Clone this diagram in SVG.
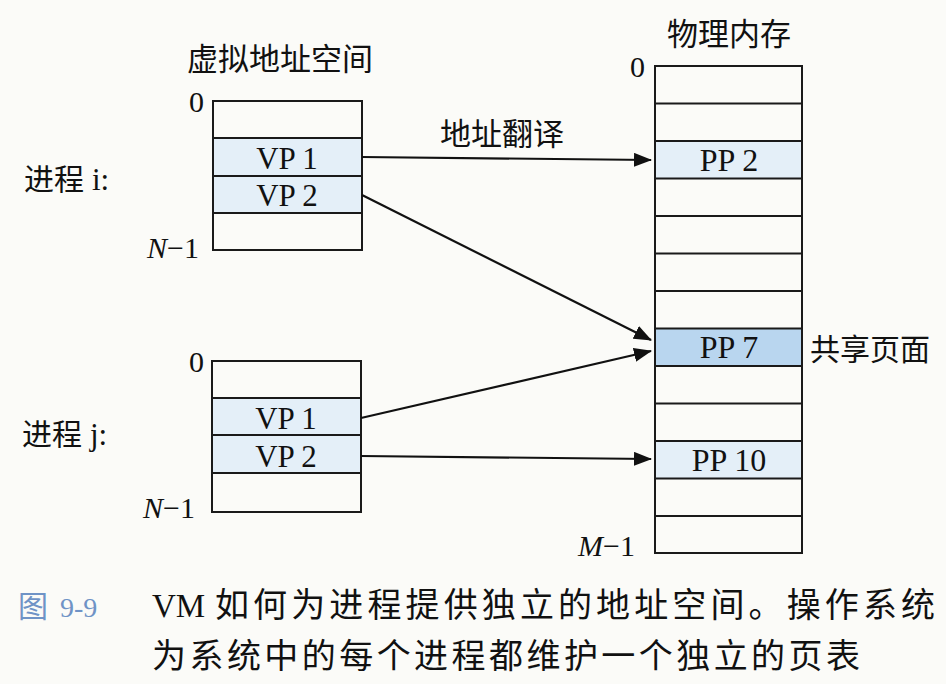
<svg xmlns="http://www.w3.org/2000/svg" width="946" height="684" viewBox="0 0 946 684">
<defs>
<style>
.cell{fill:none;stroke:#1a1a1a;stroke-width:2}
.hl{fill:#e4eff8}
.sh{fill:#b9d6ef}
.rom{font-family:"Liberation Serif","Times New Roman",serif;fill:#111}
.cjk{font-family:"Noto Sans CJK SC",sans-serif;fill:#111}
.con{stroke:#111;stroke-width:2.2;fill:none;marker-end:url(#ah)}
</style>
<marker id="ah" viewBox="0 0 18 14" refX="17" refY="7" markerWidth="18" markerHeight="14" markerUnits="userSpaceOnUse" orient="auto">
<path d="M0,0 L18,7 L0,14 Z" fill="#111"/>
</marker>
</defs>
<rect width="946" height="684" fill="#fbfbf8"/>

<g id="vas-title"><text class="cjk" x="280" y="70" font-size="31" text-anchor="middle">虚拟地址空间</text></g>
<g id="pm-title"><text class="cjk" x="729" y="45" font-size="31" text-anchor="middle">物理内存</text></g>

<g id="proc-i">
<text class="cjk" x="24" y="190" font-size="30">进程</text>
<text class="rom" x="92" y="190" font-size="31">i:</text>
<text class="rom" x="189" y="112" font-size="30">0</text>
<text class="rom" x="147" y="258" font-size="30"><tspan font-style="italic">N</tspan>−1</text>
<rect class="hl" x="213" y="138" width="149" height="75"/>
<rect class="cell" x="213" y="101" width="149" height="149"/>
<line class="cell" x1="213" y1="138" x2="362" y2="138"/>
<line class="cell" x1="213" y1="176" x2="362" y2="176"/>
<line class="cell" x1="213" y1="213" x2="362" y2="213"/>
<text class="rom" x="287" y="169" font-size="31" text-anchor="middle">VP 1</text>
<text class="rom" x="287" y="206" font-size="31" text-anchor="middle">VP 2</text>
</g>

<g id="proc-j">
<text class="cjk" x="22" y="445" font-size="30">进程</text>
<text class="rom" x="90" y="445" font-size="31">j:</text>
<text class="rom" x="189" y="372" font-size="30">0</text>
<text class="rom" x="143" y="518" font-size="30"><tspan font-style="italic">N</tspan>−1</text>
<rect class="hl" x="212" y="398" width="149" height="75"/>
<rect class="cell" x="212" y="361" width="149" height="151"/>
<line class="cell" x1="212" y1="398" x2="361" y2="398"/>
<line class="cell" x1="212" y1="435" x2="361" y2="435"/>
<line class="cell" x1="212" y1="473" x2="361" y2="473"/>
<text class="rom" x="286" y="429" font-size="31" text-anchor="middle">VP 1</text>
<text class="rom" x="286" y="467" font-size="31" text-anchor="middle">VP 2</text>
</g>

<g id="phys-mem">
<text class="rom" x="630" y="77" font-size="30">0</text>
<text class="rom" x="578" y="556" font-size="30"><tspan font-style="italic">M</tspan>−1</text>
<rect class="hl" x="655" y="141" width="147" height="37.5"/>
<rect class="sh" x="655" y="328.5" width="147" height="37.5"/>
<rect class="hl" x="655" y="441" width="147" height="37.5"/>
<rect class="cell" x="655" y="66" width="147" height="487"/>
<g class="cell">
<line x1="655" y1="103.5" x2="802" y2="103.5"/>
<line x1="655" y1="141" x2="802" y2="141"/>
<line x1="655" y1="178.5" x2="802" y2="178.5"/>
<line x1="655" y1="216" x2="802" y2="216"/>
<line x1="655" y1="253.5" x2="802" y2="253.5"/>
<line x1="655" y1="291" x2="802" y2="291"/>
<line x1="655" y1="328.5" x2="802" y2="328.5"/>
<line x1="655" y1="366" x2="802" y2="366"/>
<line x1="655" y1="403.5" x2="802" y2="403.5"/>
<line x1="655" y1="441" x2="802" y2="441"/>
<line x1="655" y1="478.5" x2="802" y2="478.5"/>
<line x1="655" y1="516" x2="802" y2="516"/>
</g>
<text class="rom" x="729" y="171" font-size="32" text-anchor="middle">PP 2</text>
<text class="rom" x="729" y="358" font-size="32" text-anchor="middle">PP 7</text>
<text class="rom" x="729" y="471" font-size="32" text-anchor="middle">PP 10</text>
<text class="cjk" x="810" y="360" font-size="30">共享页面</text>
</g>

<g id="connectors">
<line class="con" x1="362" y1="157" x2="651" y2="160"/>
<line class="con" x1="362" y1="195" x2="651" y2="340"/>
<line class="con" x1="361" y1="418" x2="651" y2="351"/>
<line class="con" x1="361" y1="456" x2="651" y2="459"/>
<text class="cjk" x="502" y="145" font-size="31" text-anchor="middle">地址翻译</text>
</g>

<g id="caption">
<text x="18" y="617" font-size="30" fill="#6f93c6" font-family="Noto Sans CJK SC,sans-serif">图</text>
<text x="60" y="617" font-size="28" fill="#6f93c6" font-family="Liberation Serif,serif">9-9</text>
<text class="rom" x="152" y="617" font-size="33">VM</text>
<text class="cjk" x="215" y="617" font-size="34" textLength="720" lengthAdjust="spacing">如何为进程提供独立的地址空间。操作系统</text>
<text class="cjk" x="152" y="668" font-size="34" textLength="708" lengthAdjust="spacing">为系统中的每个进程都维护一个独立的页表</text>
</g>
</svg>
